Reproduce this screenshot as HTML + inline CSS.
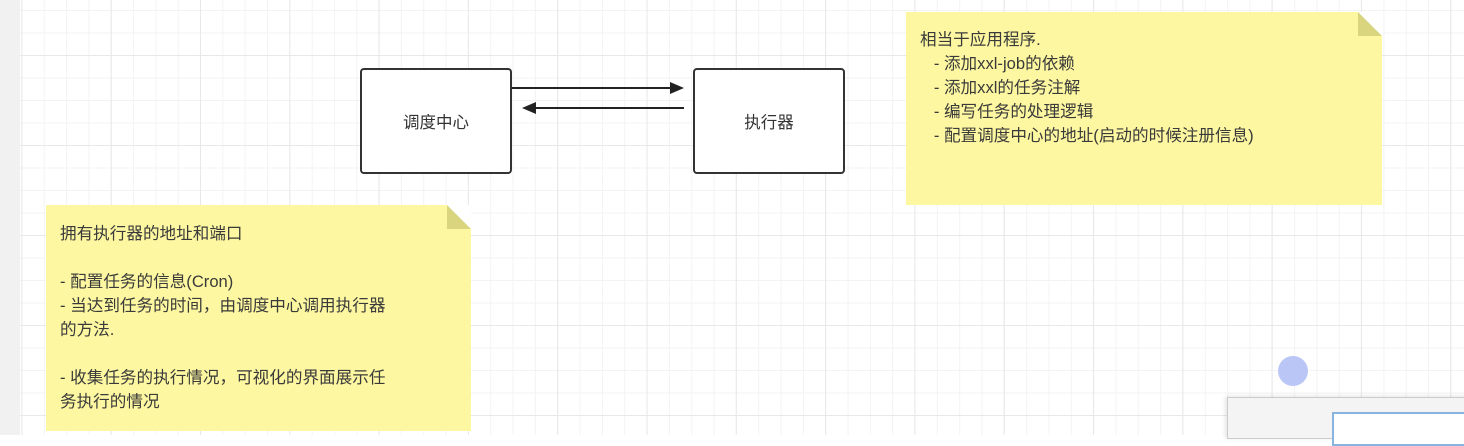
<!DOCTYPE html>
<html><head><meta charset="utf-8"><style>
html,body{margin:0;padding:0;width:1464px;height:435px;overflow:hidden;background:#fff;}
.grid{position:absolute;left:20px;top:0;width:1444px;height:435px;
background-image:
linear-gradient(to right,#e8e8e8 1px,transparent 1px),
linear-gradient(to bottom,#e8e8e8 1px,transparent 1px),
linear-gradient(to right,#f3f3f3 1px,transparent 1px),
linear-gradient(to bottom,#f3f3f3 1px,transparent 1px);
background-size:89.3px 90px,89.3px 90px,22.33px 22.5px,22.33px 22.5px;
background-position:1.4px 55px,1.4px 55px,1.4px 10px,1.4px 10px;}
.strip{position:absolute;left:0;top:0;width:20px;height:435px;background:#f1f1f1;}
.box{position:absolute;border:2px solid #333;border-radius:4px;background:#fff;display:flex;align-items:center;justify-content:center;font:16.5px "Liberation Sans","Noto Sans CJK SC",sans-serif;color:#333;box-sizing:border-box;}
.note{position:absolute;background:#fcf7a0;font:16.6px/24px "Liberation Sans","Noto Sans CJK SC",sans-serif;color:#3a3a3a;box-sizing:border-box;white-space:pre;}
.fold{position:absolute;right:0;top:0;width:0;height:0;border-style:solid;border-width:0 24px 24px 0;border-color:transparent #fff #d9d47e transparent;}
</style></head><body>
<div class="strip"></div>
<div class="grid"></div>
<div class="box" style="left:360px;top:68px;width:152px;height:106px;">调度中心</div>
<div class="box" style="left:693px;top:68px;width:152px;height:106px;">执行器</div>
<svg style="position:absolute;left:0;top:0" width="1464" height="435">
<line x1="512" y1="88" x2="672" y2="88" stroke="#222" stroke-width="2"/>
<polygon points="684,88 670,82 670,94" fill="#222"/>
<line x1="535" y1="108" x2="684" y2="108" stroke="#222" stroke-width="2"/>
<polygon points="522,108 536,102 536,114" fill="#222"/>
</svg>
<div class="note" style="left:906px;top:12px;width:476px;height:193px;padding:16px 0 0 14px;">相当于应用程序.
   - 添加xxl-job的依赖
   - 添加xxl的任务注解
   - 编写任务的处理逻辑
   - 配置调度中心的地址(启动的时候注册信息)<div class="fold"></div></div>
<div class="note" style="left:46px;top:205px;width:425px;height:226px;padding:17px 0 0 14px;">拥有执行器的地址和端口

- 配置任务的信息(Cron)
- 当达到任务的时间，由调度中心调用执行器
的方法.

- 收集任务的执行情况，可视化的界面展示任
务执行的情况<div class="fold"></div></div>
<div style="position:absolute;left:1278px;top:356px;width:30px;height:30px;border-radius:50%;background:#bac6f6;"></div>
<div style="position:absolute;left:1227px;top:397px;width:240px;height:40px;background:#f4f4f4;border:1px solid #ccc;box-shadow:-2px -1px 4px rgba(0,0,0,0.1);"></div>
<div style="position:absolute;left:1332px;top:412px;width:140px;height:30px;background:#fff;border:2px solid #8ab4e0;"></div>
</body></html>
